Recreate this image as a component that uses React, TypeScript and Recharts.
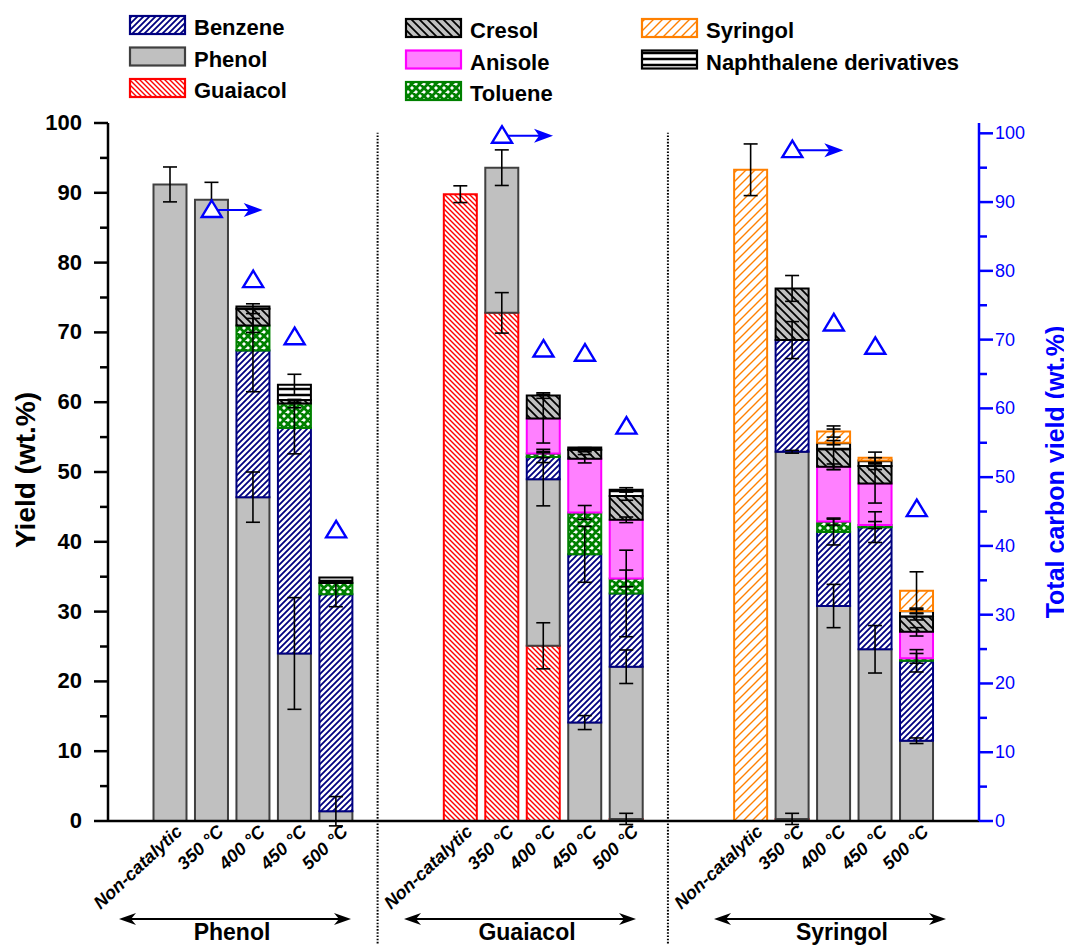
import React from 'react';
import { ComposedChart, Bar, XAxis, YAxis, Scatter, ErrorBar, ReferenceLine } from 'recharts';

// ---------- data ----------
const categoryIds = ['p0', 'p1', 'p2', 'p3', 'p4', 'gapA1', 'gapA2', 'g0', 'g1', 'g2', 'g3', 'g4', 'gapB1', 'gapB2', 's0', 's1', 's2', 's3', 's4'];
const tickLabels = ['Non-catalytic', '350 °C', '400 °C', '450 °C', '500 °C', '', '', 'Non-catalytic', '350 °C', '400 °C', '450 °C', '500 °C', '', '', 'Non-catalytic', '350 °C', '400 °C', '450 °C', '500 °C'];

const guaiacolVals = [null, null, null, null, null, null, null, 89.8, 72.8, 25.1, null, 0.3, null, null, null, 0.3, null, null, null];
const guaiacolErr = [null, null, null, null, null, null, null, 1.2, 2.9, 3.3, null, 0.8, null, null, null, 0.8, null, null, null];
const phenolVals = [91.2, 89.0, 46.4, 24.0, 1.4, null, null, null, 20.8, 23.85, 14.1, 21.8, null, null, null, 52.6, 30.8, 24.6, 11.5];
const phenolErr = [2.5, 2.5, 3.6, 8.0, 2.1, null, null, null, 2.55, 3.8, 1.0, 2.4, null, null, null, 0.2, 3.1, 3.4, 0.4];
const benzeneVals = [null, null, 21.0, 32.3, 31.1, null, null, null, null, 3.2, 24.1, 10.5, null, null, null, 16.0, 10.6, 17.5, 11.45];
const benzeneErr = [null, null, 5.9, 3.7, 1.8, null, null, null, null, 0.8, 4.0, 6.2, null, null, null, 2.65, 1.85, 2.2, 1.6];
const tolueneVals = [null, null, 3.6, 3.5, 1.6, null, null, null, null, 0.5, 6.0, 2.15, null, null, null, null, 1.5, 0.3, 0.35];
const tolueneErr = [null, null, 1.0, 0.6, null, null, null, null, null, 0.6, 1.0, 1.2, null, null, null, null, 0.5, 0.5, 0.7];
const anisoleVals = [null, null, null, null, null, null, null, null, null, 5.0, 7.7, 8.4, null, null, null, null, 7.85, 5.95, 3.8];
const anisoleErr = [null, null, null, null, null, null, null, null, null, 3.5, 0.6, 0.4, null, null, null, null, 0.4, 2.8, 0.6];
const cresolVals = [null, null, 2.4, 0.5, null, null, null, null, null, 3.3, 1.3, 3.4, null, null, null, 7.4, 2.5, 2.5, 2.2];
const cresolErr = [null, null, 0.7, null, null, null, null, null, null, 0.4, 0.3, 0.6, null, null, null, 1.85, 2.9, 0.5, 0.5];
const naphthaleneVals = [null, null, 0.3, 2.2, 0.8, null, null, null, null, null, 0.3, 0.9, null, null, null, null, 0.95, 0.8, 0.8];
const naphthaleneErr = [null, null, null, 1.5, null, null, null, null, null, null, null, 0.3, null, null, null, null, 0.3, 0.4, 0.4];
const syringolVals = [null, null, null, null, null, null, null, null, null, null, null, null, null, null, 93.3, null, 1.6, 0.4, 2.9];
const syringolErr = [null, null, null, null, null, null, null, null, null, null, null, null, null, null, 3.7, null, 0.8, 0.8, 2.7];
const totalCarbonYield = [null, 89.0, 78.8, 70.5, 42.4, null, null, null, 99.8, 68.7, 68.1, 57.5, null, null, null, 97.7, 72.5, 69.1, 45.5];
const arrowFlags = [false, true, false, false, false, false, false, false, true, false, false, false, false, false, false, true, false, false, false];

const leftTicks = [0, 5, 10, 15, 20, 25, 30, 35, 40, 45, 50, 55, 60, 65, 70, 75, 80, 85, 90, 95, 100];
const rightTicks = [0, 5, 10, 15, 20, 25, 30, 35, 40, 45, 50, 55, 60, 65, 70, 75, 80, 85, 90, 95, 100];
const groupNames = ['Phenol', 'Guaiacol', 'Syringol'];

// ---------- build table ----------
const valueArrays: Record<string, (number | null)[]> = {
  guaiacol: guaiacolVals, phenol: phenolVals, benzene: benzeneVals, toluene: tolueneVals,
  anisole: anisoleVals, cresol: cresolVals, naphthalene: naphthaleneVals, syringol: syringolVals,
};
const errArrays: Record<string, (number | null)[]> = {
  guaiacol: guaiacolErr, phenol: phenolErr, benzene: benzeneErr, toluene: tolueneErr,
  anisole: anisoleErr, cresol: cresolErr, naphthalene: naphthaleneErr, syringol: syringolErr,
};
const seriesOrder = ['guaiacol', 'phenol', 'benzene', 'toluene', 'anisole', 'cresol', 'naphthalene', 'syringol'];

const data = categoryIds.map((id, i) => {
  const row: any = { id, tcy: totalCarbonYield[i], arrow: arrowFlags[i] };
  seriesOrder.forEach((k) => {
    row[k] = valueArrays[k][i];
    row[k + 'Err'] = errArrays[k][i];
  });
  return row;
});
const labelById: Record<string, string> = {};
categoryIds.forEach((id, i) => { labelById[id] = tickLabels[i]; });

// ---------- styles ----------
const FONT = '"Liberation Sans", Arial, Helvetica, sans-serif';
const strokes: Record<string, string> = {
  guaiacol: '#ff0000', phenol: '#404040', benzene: '#000080', toluene: '#008000',
  anisole: '#ff00ff', cresol: '#000000', naphthalene: '#000000', syringol: '#ff8000',
};
const solidFills: Record<string, string> = { phenol: '#c0c0c0', anisole: '#ff80ff' };
const fillFor = (prefix: string, k: string) => solidFills[k] || `url(#${prefix}${k})`;

const fwd = (p: number) => `M0,${p} L${p},0 M${-p / 2},${p / 2} L${p / 2},${-p / 2} M${p / 2},${1.5 * p} L${1.5 * p},${p / 2}`;
const back = (p: number) => `M0,0 L${p},${p} M${-p / 2},${p / 2} L${p / 2},${1.5 * p} M${p / 2},${-p / 2} L${1.5 * p},${p / 2}`;

function Patterns({ prefix }: { prefix: string }) {
  return (
    <defs>
      <pattern id={prefix + 'benzene'} patternUnits="userSpaceOnUse" width={6} height={6}>
        <rect width={6} height={6} fill="#fff" />
        <path d={fwd(6)} stroke="#000080" strokeWidth={1.8} />
      </pattern>
      <pattern id={prefix + 'guaiacol'} patternUnits="userSpaceOnUse" width={5} height={5}>
        <rect width={5} height={5} fill="#fff" />
        <path d={back(5)} stroke="#ff0000" strokeWidth={1.4} />
      </pattern>
      <pattern id={prefix + 'cresol'} patternUnits="userSpaceOnUse" width={8} height={8}>
        <rect width={8} height={8} fill="#c0c0c0" />
        <path d={back(8)} stroke="#000" strokeWidth={1.8} />
      </pattern>
      <pattern id={prefix + 'syringol'} patternUnits="userSpaceOnUse" width={9} height={9}>
        <rect width={9} height={9} fill="#fff" />
        <path d={fwd(9)} stroke="#ff8000" strokeWidth={1.4} />
      </pattern>
      <pattern id={prefix + 'toluene'} patternUnits="userSpaceOnUse" width={8} height={8}>
        <rect width={8} height={8} fill="#fff" />
        <path d={fwd(8) + ' ' + back(8)} stroke="#008000" strokeWidth={2.8} />
      </pattern>
      <pattern id={prefix + 'naphthalene'} patternUnits="userSpaceOnUse" width={6} height={6}>
        <rect width={6} height={6} fill="#fff" />
        <path d="M0,3 L6,3" stroke="#000" strokeWidth={2.5} />
      </pattern>
    </defs>
  );
}

// ---------- ticks ----------
const XTick = (props: any) => {
  const { x, y, payload } = props;
  const label = labelById[payload.value];
  if (!label) return <g />;
  const ax = x + 13;
  const ay = y + 12;
  return (
    <text x={ax} y={ay} transform={`rotate(-43, ${ax}, ${ay})`} textAnchor="end"
      fontFamily={FONT} fontSize={18} fontWeight="bold" fontStyle="italic" fill="#000">
      {label}
    </text>
  );
};

const LeftTick = (props: any) => {
  const { x, y, payload } = props;
  const major = payload.value % 10 === 0;
  return (
    <g>
      <line x1={x} x2={x - (major ? 14 : 8)} y1={y} y2={y} stroke="#000" strokeWidth={2.5} />
      {major && (
        <text x={x - 26} y={y + 7} textAnchor="end" fontFamily={FONT} fontSize={22} fontWeight="bold" fill="#000">
          {payload.value}
        </text>
      )}
    </g>
  );
};

const RightTick = (props: any) => {
  const { x, y, payload } = props;
  const major = payload.value % 10 === 0;
  return (
    <g>
      <line x1={x} x2={x + (major ? 14 : 8)} y1={y} y2={y} stroke="#0000ff" strokeWidth={2.5} />
      {major && (
        <text x={x + 16} y={y + 6} textAnchor="start" fontFamily={FONT} fontSize={18} fill="#0000ff">
          {payload.value}
        </text>
      )}
    </g>
  );
};

const TriangleShape = (props: any) => {
  const { cx, cy, payload } = props;
  if (!payload || payload.tcy == null || cx == null || cy == null) return <g />;
  const pts = `${cx},${cy - 8.5} ${cx - 10},${cy + 8} ${cx + 10},${cy + 8}`;
  return (
    <g>
      {payload.arrow && (
        <g>
          <line x1={cx + 6} y1={cy + 1} x2={cx + 40} y2={cy + 1} stroke="#0000ff" strokeWidth={2} />
          <polygon points={`${cx + 51},${cy + 1} ${cx + 32},${cy - 6} ${cx + 37},${cy + 1} ${cx + 32},${cy + 8}`} fill="#0000ff" />
        </g>
      )}
      <polygon points={pts} fill="#fff" stroke="#0000ff" strokeWidth={2.4} strokeLinejoin="miter" />
    </g>
  );
};

// ---------- overlay (legend, axis titles, group labels) ----------
const legendItems = [
  { key: 'benzene', label: 'Benzene', col: 0, row: 0 },
  { key: 'phenol', label: 'Phenol', col: 0, row: 1 },
  { key: 'guaiacol', label: 'Guaiacol', col: 0, row: 2 },
  { key: 'cresol', label: 'Cresol', col: 1, row: 0 },
  { key: 'anisole', label: 'Anisole', col: 1, row: 1 },
  { key: 'toluene', label: 'Toluene', col: 1, row: 2 },
  { key: 'syringol', label: 'Syringol', col: 2, row: 0 },
  { key: 'naphthalene', label: 'Naphthalene derivatives', col: 2, row: 1 },
];
const legendColX = [121, 397, 633];
const legendColDy = [0, 3, 3];
const legendRowY = [7, 38.5, 70];

const groupArrows = [
  { x1: 111, x2: 343, tx: 224 },
  { x1: 396, x2: 628, tx: 519 },
  { x1: 706, x2: 938, tx: 834 },
];

function Overlay() {
  return (
    <svg width={1064} height={937} style={{ position: 'absolute', left: 0, top: 0, pointerEvents: 'none' }}>
      <Patterns prefix="lg-" />
      {legendItems.map((it) => {
        const x = legendColX[it.col];
        const y = legendRowY[it.row] + legendColDy[it.col];
        return (
          <g key={it.key}>
            <rect x={x + 1} y={y + 1} width={55} height={18} fill={fillFor('lg-', it.key)} stroke={strokes[it.key]} strokeWidth={2.2} />
            <text x={x + 65} y={y + 20} fontFamily={FONT} fontSize={22} fontWeight="bold" fill="#000">{it.label}</text>
          </g>
        );
      })}
      <text x={27} y={462} transform="rotate(-90, 27, 462)" textAnchor="middle" fontFamily={FONT} fontSize={28} fontWeight="bold" fill="#000">
        Yield (wt.%)
      </text>
      <text x={1056} y={464} transform="rotate(-90, 1056, 464)" textAnchor="middle" fontFamily={FONT} fontSize={25} fontWeight="bold" fill="#0000ff">
        Total carbon yield (wt.%)
      </text>
      {groupArrows.map((g, i) => (
        <g key={i}>
          <line x1={g.x1 + 8} x2={g.x2 - 8} y1={911} y2={911} stroke="#000" strokeWidth={2} />
          <polygon points={`${g.x1},911 ${g.x1 + 17},905 ${g.x1 + 12},911 ${g.x1 + 17},917`} fill="#000" />
          <polygon points={`${g.x2},911 ${g.x2 - 17},905 ${g.x2 - 12},911 ${g.x2 - 17},917`} fill="#000" />
          <text x={g.tx} y={932} textAnchor="middle" fontFamily={FONT} fontSize={23} fontWeight="bold" fill="#000">{groupNames[i]}</text>
        </g>
      ))}
    </svg>
  );
}

const PAD = { left: 41.5, right: 41.5 };

export default function App() {
  return (
    <div style={{ position: 'relative', width: 1064, height: 937, background: '#fff' }}>
      <ComposedChart width={1064} height={937} data={data} margin={{ top: 115, right: 33, bottom: 24, left: 40 }}>
        <Patterns prefix="pat-" />
        <XAxis xAxisId="main" dataKey="id" padding={PAD} interval={0} tick={XTick} tickLine={false} tickSize={0} tickMargin={0}
          height={100} axisLine={{ stroke: '#000', strokeWidth: 2.5 }} />
        <XAxis xAxisId="err" dataKey="id" padding={PAD} hide height={0} />
        <XAxis xAxisId="top" dataKey="id" orientation="top" padding={PAD} height={0} tick={false} tickLine={false}
          axisLine={{ stroke: '#000', strokeWidth: 2.5 }} />
        <YAxis yAxisId="left" domain={[0, 100]} ticks={leftTicks} allowDataOverflow interval={0} tick={LeftTick}
          tickLine={false} tickSize={0} tickMargin={0} width={60} axisLine={{ stroke: '#000', strokeWidth: 2.5 }} />
        <YAxis yAxisId="right" orientation="right" domain={[0, 101.5]} ticks={rightTicks} allowDataOverflow interval={0}
          tick={RightTick} tickLine={false} tickSize={0} tickMargin={0} width={60} axisLine={{ stroke: '#0000ff', strokeWidth: 2.5 }} />
        {seriesOrder.map((k) => (
          <Bar key={k} xAxisId="main" yAxisId="left" dataKey={k} stackId="main" barSize={33}
            fill={fillFor('pat-', k)} stroke={strokes[k]} strokeWidth={2} isAnimationActive={false} />
        ))}
        {seriesOrder.map((k) => (
          <Bar key={'e-' + k} xAxisId="err" yAxisId="left" dataKey={k} stackId="err" barSize={33}
            fill="#fff" fillOpacity={0} stroke="none" isAnimationActive={false}>
            <ErrorBar dataKey={k + 'Err'} width={7} stroke="#000" strokeWidth={1.6} direction="y" />
          </Bar>
        ))}
        <ReferenceLine xAxisId="main" yAxisId="left" ifOverflow="visible" stroke="#000" strokeWidth={2} strokeDasharray="1.6 1.6"
          segment={[{ x: 'gapA1', y: -18 }, { x: 'gapA1', y: 98.6 }]} />
        <ReferenceLine xAxisId="main" yAxisId="left" ifOverflow="visible" stroke="#000" strokeWidth={2} strokeDasharray="1.6 1.6"
          segment={[{ x: 'gapB1', y: -18 }, { x: 'gapB1', y: 98.6 }]} />
        <Scatter xAxisId="main" yAxisId="right" dataKey="tcy" shape={TriangleShape} isAnimationActive={false} />
      </ComposedChart>
      <Overlay />
    </div>
  );
}
